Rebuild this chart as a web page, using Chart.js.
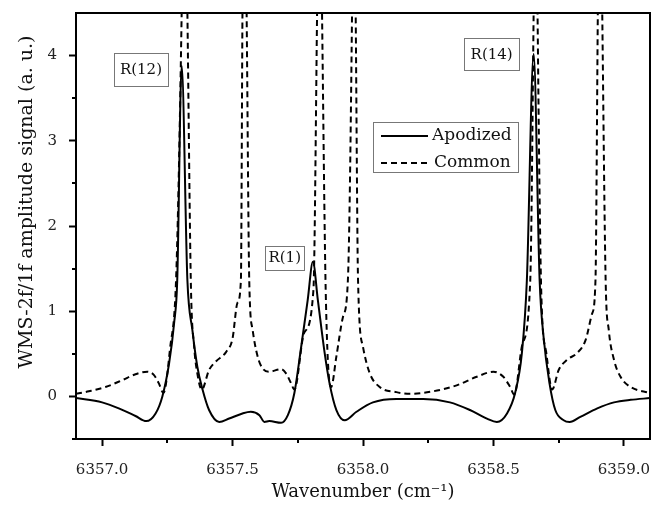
<!DOCTYPE html>
<html>
<head>
<meta charset="utf-8">
<script src="https://cdn.jsdelivr.net/npm/chart.js@4.4.1/dist/chart.umd.min.js"></script>
<style>
  html, body { margin: 0; padding: 0; background: #fff; }
  #wrap { width: 652px; height: 510px; position: relative; }
</style>
</head>
<body>
<div id="wrap"><canvas id="wmsChart" width="652" height="510"></canvas></div>
<script>
// Apodized (solid) curve
const apodizedX = [6356.90, 6357.000, 6357.064, 6357.128, 6357.169, 6357.205, 6357.231, 6357.257, 6357.276, 6357.288,
  6357.305, 6357.327, 6357.346, 6357.365, 6357.385, 6357.410, 6357.449, 6357.487, 6357.538, 6357.570,
  6357.603, 6357.622, 6357.641, 6357.686, 6357.712, 6357.737, 6357.763, 6357.788, 6357.808, 6357.827,
  6357.853, 6357.872, 6357.898, 6357.930, 6357.975, 6358.038, 6358.128, 6358.231, 6358.333, 6358.410,
  6358.475, 6358.513, 6358.552, 6358.583, 6358.609, 6358.628, 6358.654, 6358.677, 6358.692, 6358.715,
  6358.737, 6358.769, 6358.792, 6358.833, 6358.898, 6358.962, 6359.026, 6359.100];
const apodizedY = [-0.02, -0.07, -0.14, -0.23, -0.29, -0.20, 0.00, 0.39, 0.86, 1.36,
  3.88, 1.36, 0.78, 0.35, 0.08, -0.16, -0.30, -0.26, -0.20, -0.18,
  -0.22, -0.30, -0.29, -0.31, -0.22, 0.04, 0.58, 1.13, 1.58, 1.13,
  0.51, 0.15, -0.16, -0.28, -0.18, -0.07, -0.03, -0.03, -0.07, -0.16,
  -0.26, -0.30, -0.20, 0.04, 0.51, 1.36, 4.02, 1.36, 0.70, 0.15,
  -0.16, -0.28, -0.30, -0.24, -0.14, -0.07, -0.04, -0.02];

// Common (dashed) curve, peaks run off the top of the frame
const commonX = [6356.90, 6356.949, 6357.013, 6357.077, 6357.128, 6357.173, 6357.199, 6357.218, 6357.235, 6357.260,
  6357.285, 6357.305, 6357.316, 6357.327, 6357.340, 6357.353, 6357.365, 6357.382, 6357.410, 6357.436,
  6357.475, 6357.500, 6357.519, 6357.532, 6357.538, 6357.545, 6357.554, 6357.564, 6357.577, 6357.596,
  6357.615, 6357.641, 6357.686, 6357.705, 6357.725, 6357.737, 6357.775, 6357.810, 6357.824, 6357.833,
  6357.843, 6357.857, 6357.878, 6357.898, 6357.923, 6357.942, 6357.958, 6357.965, 6357.972, 6357.981,
  6358.000, 6358.026, 6358.064, 6358.128, 6358.180, 6358.269, 6358.359, 6358.436, 6358.500, 6358.538,
  6358.564, 6358.580, 6358.610, 6358.641, 6358.654, 6358.662, 6358.669, 6358.683, 6358.703, 6358.725,
  6358.750, 6358.782, 6358.821, 6358.853, 6358.878, 6358.891, 6358.900, 6358.908, 6358.917, 6358.930,
  6358.942, 6358.962, 6358.987, 6359.026, 6359.100];
const commonY = [0.03, 0.06, 0.11, 0.19, 0.26, 0.29, 0.25, 0.15, 0.04, 0.55,
  1.50, 4.50, 7.00, 4.50, 1.36, 0.58, 0.27, 0.08, 0.31, 0.41,
  0.52, 0.68, 1.10, 1.36, 4.50, 7.00, 4.50, 1.36, 0.78, 0.47,
  0.33, 0.29, 0.32, 0.27, 0.15, 0.08, 0.75, 1.25, 4.50, 7.00,
  4.50, 1.25, 0.11, 0.47, 0.93, 1.36, 4.50, 7.00, 4.50, 1.36,
  0.58, 0.27, 0.11, 0.05, 0.03, 0.06, 0.13, 0.23, 0.29, 0.23,
  0.11, 0.02, 0.60, 1.36, 4.50, 7.00, 4.50, 1.25, 0.50, 0.08,
  0.31, 0.43, 0.51, 0.66, 0.97, 1.36, 4.50, 7.00, 4.50, 1.36,
  0.78, 0.43, 0.23, 0.11, 0.04];

const seriesNames = ['Apodized', 'Common'];
const xTickLabels = ['6357.0', '6357.5', '6358.0', '6358.5', '6359.0'];
const xMinorTicks = [6357.25, 6357.75, 6358.25, 6358.75];
const yTickLabels = ['0', '1', '2', '3', '4'];
const yMinorTicks = [-0.5, 0.5, 1.5, 2.5, 3.5];

// Line labels and where their boxes sit (data coords + box size)
const peakLabels = ['R(12)', 'R(1)', 'R(14)'];
const peakBoxes = [
  { x: 6357.149, y: 3.84, w: 54, h: 33 },
  { x: 6357.700, y: 1.63, w: 39, h: 24 },
  { x: 6358.493, y: 4.02, w: 55, h: 32 }
];

const SERIF = '"DejaVu Serif", serif';

function toPoints(xs, ys) {
  return xs.map((x, i) => ({ x: x, y: ys[i] }));
}

// Frame, minor ticks, titles, legend, labelled boxes
const decorPlugin = {
  id: 'decor',
  afterDraw(chart) {
    const ctx = chart.ctx;
    const area = chart.chartArea;
    const xs = chart.scales.x;
    const ys = chart.scales.y;

    ctx.save();
    ctx.strokeStyle = '#000';
    ctx.lineWidth = 2;
    ctx.strokeRect(area.left, area.top, area.right - area.left, area.bottom - area.top);

    // minor ticks
    ctx.beginPath();
    xMinorTicks.forEach(v => {
      const px = Math.round(xs.getPixelForValue(v));
      ctx.moveTo(px, area.bottom);
      ctx.lineTo(px, area.bottom + 4);
    });
    yMinorTicks.forEach(v => {
      const py = Math.round(ys.getPixelForValue(v));
      ctx.moveTo(area.left, py);
      ctx.lineTo(area.left - 4, py);
    });
    ctx.stroke();

    // axis titles
    ctx.fillStyle = '#111';
    ctx.font = '18px ' + SERIF;
    ctx.textAlign = 'center';
    ctx.textBaseline = 'middle';
    ctx.fillText('Wavenumber (cm\u207B\u00B9)', (area.left + area.right) / 2, 492);
    ctx.save();
    ctx.translate(27, 202);
    ctx.rotate(-Math.PI / 2);
    ctx.font = '19px ' + SERIF;
    ctx.fillText('WMS-2f/1f amplitude signal (a. u.)', 0, 0);
    ctx.restore();

    // legend box
    const lx = 373, ly = 122, lw = 145, lh = 50;
    ctx.strokeStyle = '#777';
    ctx.lineWidth = 1;
    ctx.strokeRect(lx + 0.5, ly + 0.5, lw, lh);
    chart.data.datasets.forEach((ds, i) => {
      const rowY = ly + 14 + i * 27;
      ctx.strokeStyle = '#000';
      ctx.lineWidth = 2;
      ctx.setLineDash(ds.borderDash || []);
      ctx.beginPath();
      ctx.moveTo(381, rowY);
      ctx.lineTo(428, rowY);
      ctx.stroke();
      ctx.setLineDash([]);
      ctx.fillStyle = '#111';
      ctx.font = '17px ' + SERIF;
      ctx.textAlign = 'left';
      ctx.fillText(ds.label, 432 + i * 2, rowY);
    });

    // peak label boxes
    ctx.font = '15px ' + SERIF;
    ctx.textAlign = 'center';
    peakLabels.forEach((txt, i) => {
      const b = peakBoxes[i];
      const cx = xs.getPixelForValue(b.x);
      const cy = ys.getPixelForValue(b.y);
      ctx.fillStyle = '#fff';
      ctx.fillRect(cx - b.w / 2, cy - b.h / 2, b.w, b.h);
      ctx.strokeStyle = '#777';
      ctx.lineWidth = 1;
      ctx.strokeRect(Math.round(cx - b.w / 2) + 0.5, Math.round(cy - b.h / 2) + 0.5, b.w, b.h);
      ctx.fillStyle = '#111';
      ctx.fillText(txt, cx, cy + 1);
    });
    ctx.restore();
  }
};

const ctx = document.getElementById('wmsChart').getContext('2d');
const chart = new Chart(ctx, {
  type: 'line',
  data: {
    datasets: [{
      label: seriesNames[0],
      data: toPoints(apodizedX, apodizedY),
      borderColor: '#000',
      borderWidth: 2,
      pointRadius: 0,
      cubicInterpolationMode: 'monotone',
      clip: 0
    }, {
      label: seriesNames[1],
      data: toPoints(commonX, commonY),
      borderColor: '#000',
      borderWidth: 2,
      borderDash: [6, 4],
      pointRadius: 0,
      cubicInterpolationMode: 'monotone',
      clip: 0
    }]
  },
  options: {
    responsive: false,
    animation: false,
    events: [],
    layout: { padding: { top: 13, right: 2, left: 0, bottom: 0 } },
    plugins: {
      legend: { display: false },
      tooltip: { enabled: false }
    },
    scales: {
      x: {
        type: 'linear',
        min: 6356.9,
        max: 6359.1,
        afterBuildTicks: scale => {
          scale.ticks = xTickLabels.map(t => ({ value: Number(t) }));
        },
        afterFit: scale => {
          scale.height = 71;
          scale.paddingLeft = 0;
          scale.paddingRight = 0;
        },
        border: { display: false },
        grid: { drawOnChartArea: false, drawTicks: true, tickLength: 7, tickWidth: 2, tickColor: '#000' },
        ticks: {
          color: '#222',
          font: { family: SERIF, size: 15 },
          padding: 15,
          maxRotation: 0,
          callback: (v, i) => xTickLabels[i]
        }
      },
      y: {
        min: -0.5,
        max: 4.5,
        afterBuildTicks: scale => {
          scale.ticks = yTickLabels.map(t => ({ value: Number(t) }));
        },
        afterFit: scale => {
          scale.width = 76;
          scale.paddingTop = 0;
          scale.paddingBottom = 0;
        },
        border: { display: false },
        grid: { drawOnChartArea: false, drawTicks: true, tickLength: 7, tickWidth: 2, tickColor: '#000' },
        ticks: {
          color: '#222',
          font: { family: SERIF, size: 15 },
          padding: 12,
          callback: (v, i) => yTickLabels[i]
        }
      }
    }
  },
  plugins: [decorPlugin]
});
</script>
</body>
</html>
